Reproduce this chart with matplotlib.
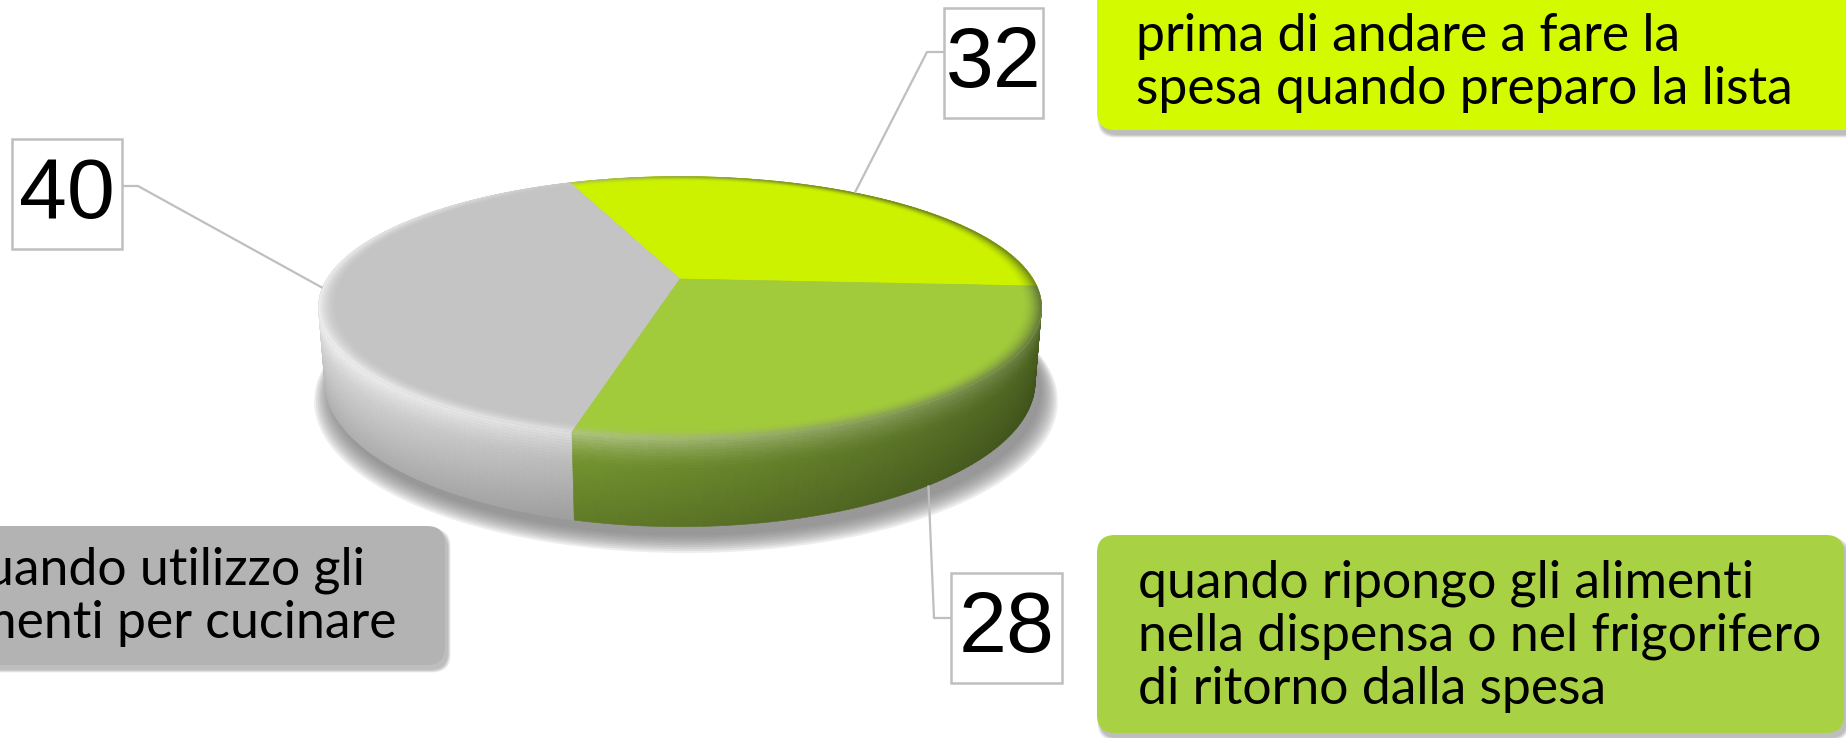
import numpy as np
import matplotlib
matplotlib.use('Agg')
import matplotlib.pyplot as plt
from matplotlib.patches import FancyBboxPatch, Polygon, Rectangle
from matplotlib.collections import PolyCollection
from matplotlib.colors import to_rgb

# dati del grafico (ordine antiorario a partire da destra)
labels = ['prima di andare a fare la\nspesa quando preparo la lista',
          'quando utilizzo gli\nalimenti per cucinare',
          'quando ripongo gli alimenti\nnella dispensa o nel frigorifero\ndi ritorno dalla spesa']
values = [32, 40, 28]
top_colors = ['#CCF200', '#C4C4C4', '#A2CB3B']
box_colors = ['#D4FA00', '#B3B3B3', '#A9D144']
side_light = ['#D6F53C', '#E2E2E2', '#8EB538']
side_dark = ['#5E7800', '#8E8E8E', '#4B6220']

# parametri della vista 3D (pixel)
cx, cy = 680, 279
sx, sy = 1532, 1566
dist = 4.34
elev = np.radians(20.2)
depth = 0.218
start = -3.2

W, H = 1846, 738
fig = plt.figure(figsize=(W / 100, H / 100), dpi=100)
ax = fig.add_axes([0, 0, 1, 1])
ax.set_xlim(0, W)
ax.set_ylim(H, 0)
ax.axis('off')


def proj(t, r, z):
    t = np.radians(t)
    x = r * np.cos(t)
    y = r * np.sin(t)
    D = dist + y * np.cos(elev) - z * np.sin(elev)
    yv = y * np.sin(elev) + z * np.cos(elev)
    return cx + sx * x / D, cy - sy * yv / D, D


def mix(c1, c2, k):
    c1 = np.array(to_rgb(c1))
    c2 = np.array(to_rgb(c2))
    return tuple(np.clip(c1 + (c2 - c1) * k, 0, 1))


def light(t):
    l = 0.5 + 0.5 * np.cos(np.radians(t - 200))
    return np.clip(l, 0, 1) ** 1.3


def side_color(i, t, f):
    l = light(t)
    c = mix(side_dark[i], side_light[i], l)
    if f < 0.35:
        c = mix(c, '#FFFFFF', 0.5 * (1 - f / 0.35) ** 1.5 * (0.2 + 0.8 * l))
    return mix(c, '#000000', 0.22 * f)


angles = np.cumsum([0] + values) / sum(values) * 360 + start

# ombra sotto la torta
tt = np.linspace(0, 360, 200)
for k in range(10):
    xs, ys, _ = proj(tt, 1 + k * 0.005, -depth)
    ax.add_patch(Polygon(np.c_[xs + 6, ys + 9 + k * 0.8], closed=True,
                         fc='#7A7A7A', ec='none', alpha=0.13, zorder=1))

# fianco: quadrilateri ordinati dal piu lontano
quads, cols, dep = [], [], []
nz = 30
for i in range(len(values)):
    a0, a1 = angles[i], angles[i + 1]
    ts = np.linspace(a0, a1, int(a1 - a0) + 2)
    for j in range(len(ts) - 1):
        tm = 0.5 * (ts[j] + ts[j + 1])
        for m in range(nz):
            f0, f1 = m / nz, (m + 1) / nz
            c = side_color(i, tm, 0.5 * (f0 + f1))
            p = []
            for (t, f) in [(ts[j], f0), (ts[j + 1], f0), (ts[j + 1], f1), (ts[j], f1)]:
                x, y, D = proj(t, 1, -depth * f)
                p.append((x, y))
            quads.append(p)
            cols.append(c)
            dep.append(proj(tm, 1, 0)[2])
order = np.argsort(dep)[::-1]
pc = PolyCollection([quads[k] for k in order], facecolors=[cols[k] for k in order],
                    edgecolors=[cols[k] for k in order], linewidths=0.4, zorder=2)
ax.add_collection(pc)

# faccia superiore
for i in range(len(values)):
    ts = np.linspace(angles[i], angles[i + 1], 120)
    xs, ys, _ = proj(ts, 1, 0)
    x0, y0, _ = proj(0, 0, 0)
    ax.add_patch(Polygon(np.r_[[[x0, y0]], np.c_[xs, ys]], closed=True,
                         fc=top_colors[i], ec=top_colors[i], lw=0.5, zorder=3))

# smusso sul bordo della faccia superiore
bev, bcol = [], []
nb = 12
for i in range(len(values)):
    a0, a1 = angles[i], angles[i + 1]
    ts = np.linspace(a0, a1, int(a1 - a0) + 2)
    for j in range(len(ts) - 1):
        tm = 0.5 * (ts[j] + ts[j + 1])
        rim = side_color(i, tm, 0.0)
        for m in range(nb):
            r0 = 0.95 + 0.05 * m / nb
            r1 = 0.95 + 0.05 * (m + 1) / nb
            k = ((m + 0.5) / nb) ** 1.8
            c = mix(top_colors[i], rim, k)
            p = []
            for (t, r) in [(ts[j], r0), (ts[j + 1], r0), (ts[j + 1], r1), (ts[j], r1)]:
                x, y, _ = proj(t, r, 0)
                p.append((x, y))
            bev.append(p)
            bcol.append(c)
ax.add_collection(PolyCollection(bev, facecolors=bcol, edgecolors=bcol, linewidths=0.4, zorder=4))

# etichette numeriche con linee guida
num_boxes = [(944, 8, 99, 110), (12, 139, 110, 110), (951, 573, 111, 110)]
elbows = [[(944, 52), (927, 52)], [(122, 186), (138, 186)], [(951, 618), (934, 618)]]
line_c = '#BFBFBF'
for i in range(len(values)):
    mid = 0.5 * (angles[i] + angles[i + 1])
    z = -depth if 200 < mid % 360 < 340 else 0
    px, py, _ = proj(mid, 1, z)
    pts = elbows[i] + [(px, py)]
    ax.plot([p[0] for p in pts], [p[1] for p in pts], color=line_c, lw=1.6, zorder=5,
            solid_capstyle='butt')
    bx, by, bw, bh = num_boxes[i]
    ax.add_patch(Rectangle((bx, by), bw, bh, fc='white', ec=line_c, lw=1.8, zorder=6))
    ax.text(bx + bw / 2, by + bh / 2 + 2, str(values[i]), ha='center', va='center',
            fontsize=62, family='Liberation Sans', color='black', zorder=7)

# riquadri con le descrizioni
lab_boxes = [(1097, -40, 790, 170), (-40, 526, 485, 139), (1097, 535, 747, 198)]


def rbox(x, y, w, h, color):
    for k in range(6):
        ax.add_patch(FancyBboxPatch((x + 3 - k * 0.5, y + 5 - k * 0.5), w + k, h + k,
                                    boxstyle='round,pad=0,rounding_size=18',
                                    fc='#505050', ec='none', alpha=0.07, zorder=8))
    ax.add_patch(FancyBboxPatch((x, y), w, h, boxstyle='round,pad=0,rounding_size=18',
                                fc=color, ec='none', zorder=9))


for i in range(len(values)):
    rbox(*lab_boxes[i], box_colors[i])

font = ['Lato', 'DejaVu Sans']
t_green = ax.text(1138, 636, labels[2], ha='left', va='center', fontsize=30,
                  family=font, linespacing=1.15, zorder=10)
fig.canvas.draw()
bb = t_green.get_window_extent(fig.canvas.get_renderer())
fs = 30 * 684 / bb.width
t_green.set_fontsize(fs)
ax.text(1136, 63, labels[0], ha='left', va='center', fontsize=fs, family=font,
        linespacing=1.15, zorder=10)
ax.text(397, 597, labels[1], ha='right', va='center', multialignment='center',
        fontsize=fs, family=font, linespacing=1.15, zorder=10)

fig.savefig('out.png', dpi=100, facecolor='white')
